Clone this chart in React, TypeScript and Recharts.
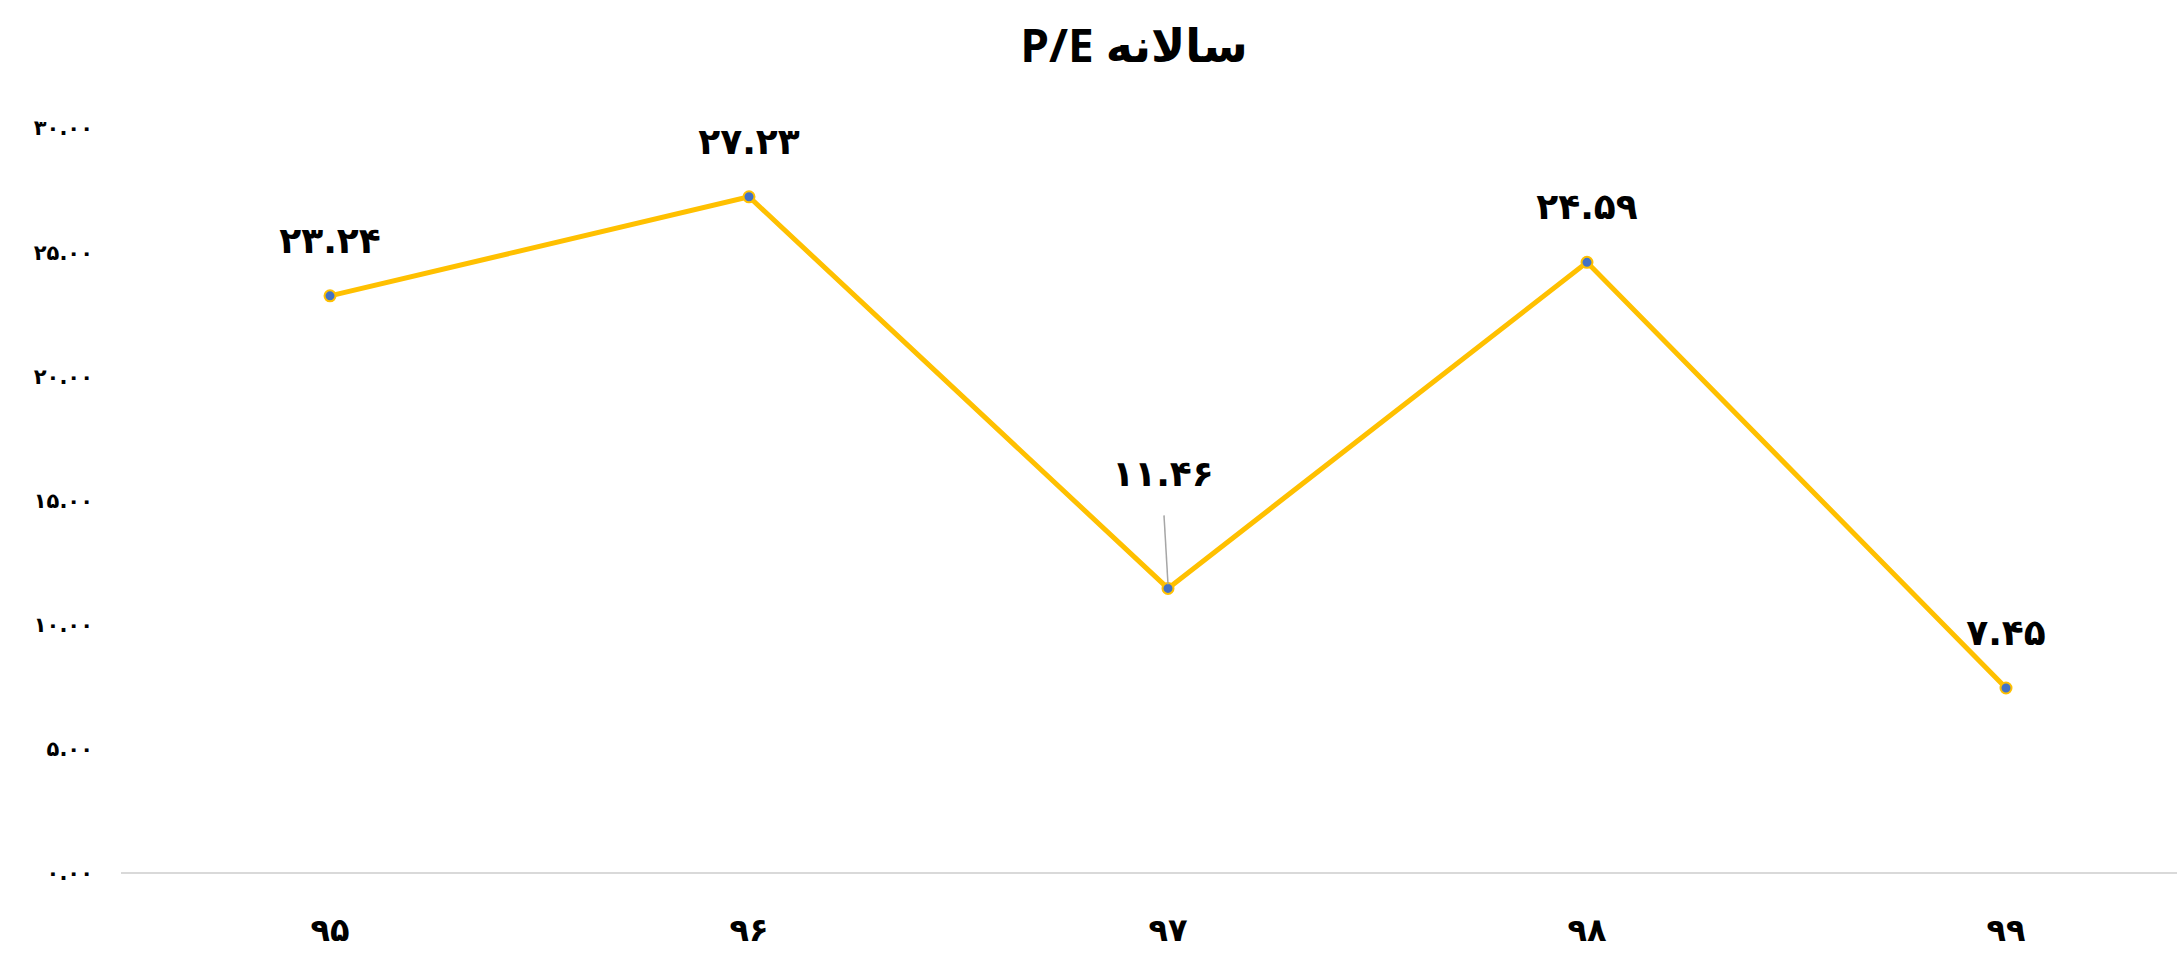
import { LineChart, Line, XAxis, YAxis } from 'recharts';

// سال‌های مالی و نسبت P/E هر سال
const years = ['۹۵', '۹۶', '۹۷', '۹۸', '۹۹'];
const peValues = [23.24, 27.23, 11.46, 24.59, 7.45];
const yTicks = [0, 5, 10, 15, 20, 25, 30];

const data = years.map((year, i) => ({ year, pe: peValues[i] }));

const FONT = "'DejaVu Sans', sans-serif";
const PERSIAN = ['۰', '۱', '۲', '۳', '۴', '۵', '۶', '۷', '۸', '۹'];

// Convert latin digits to Persian digits, keep the dot
const toPersian = (text: string) => text.replace(/[0-9]/g, (d) => PERSIAN[Number(d)]);

const YTick = ({ x, y, payload }: any) => (
  <text
    x={x}
    y={y}
    dy="0.35em"
    textAnchor="end"
    fontFamily={FONT}
    fontWeight="bold"
    fontSize={21}
    fill="#000"
  >
    {toPersian(Number(payload.value).toFixed(2))}
  </text>
);

const XTick = ({ x, y, payload }: any) => (
  <text
    x={x}
    y={y}
    dy={60}
    textAnchor="middle"
    fontFamily={FONT}
    fontWeight="bold"
    fontSize={32}
    fill="#000"
  >
    {payload.value}
  </text>
);

// The 97 label sits higher, with a thin leader line down to the point
const LEADER_INDEX = 2;

const PointLabel = ({ x, y, value, index }: any) => {
  const lifted = index === LEADER_INDEX;
  const offset = lifted ? 102 : 43;
  return (
    <g>
      {lifted && (
        <line x1={x - 4} y1={y - 73} x2={x} y2={y - 4} stroke="#A6A6A6" strokeWidth={1.5} />
      )}
      <text
        x={x - (lifted ? 5 : 0)}
        y={y - offset}
        textAnchor="middle"
        fontFamily={FONT}
        fontWeight="bold"
        fontSize={36}
        fill="#000"
      >
        {toPersian(Number(value).toFixed(2))}
      </text>
    </g>
  );
};

export default function App() {
  return (
    <div
      style={{
        position: 'fixed',
        left: 0,
        top: 0,
        width: 2177,
        height: 957,
        overflow: 'hidden',
        background: '#fff',
      }}
    >
      <div
        style={{
          position: 'absolute',
          left: 1134,
          top: 14,
          transform: 'translateX(-50%)',
          fontFamily: "'Open Sans', 'DejaVu Sans', sans-serif",
          fontWeight: 'bold',
          fontSize: 46,
          lineHeight: '60px',
          whiteSpace: 'nowrap',
          color: '#000',
        }}
      >
        P/E سالانه
      </div>
      <LineChart
        width={2215}
        height={957}
        data={data}
        margin={{ top: 128, right: 0, left: 0, bottom: 0 }}
      >
        <XAxis
          dataKey="year"
          height={84}
          padding={{ left: 209, right: 209 }}
          axisLine={{ stroke: '#D9D9D9', strokeWidth: 2 }}
          tickLine={false}
          tick={<XTick />}
          interval={0}
        />
        <YAxis
          width={121}
          domain={[0, 30]}
          ticks={yTicks}
          axisLine={false}
          tickLine={false}
          tickMargin={22}
          tick={<YTick />}
        />
        <Line
          type="linear"
          dataKey="pe"
          stroke="#FFC000"
          strokeWidth={5}
          dot={{ r: 5.5, fill: '#4472C4', stroke: '#FFC000', strokeWidth: 2 }}
          label={<PointLabel />}
          isAnimationActive={false}
        />
      </LineChart>
    </div>
  );
}
